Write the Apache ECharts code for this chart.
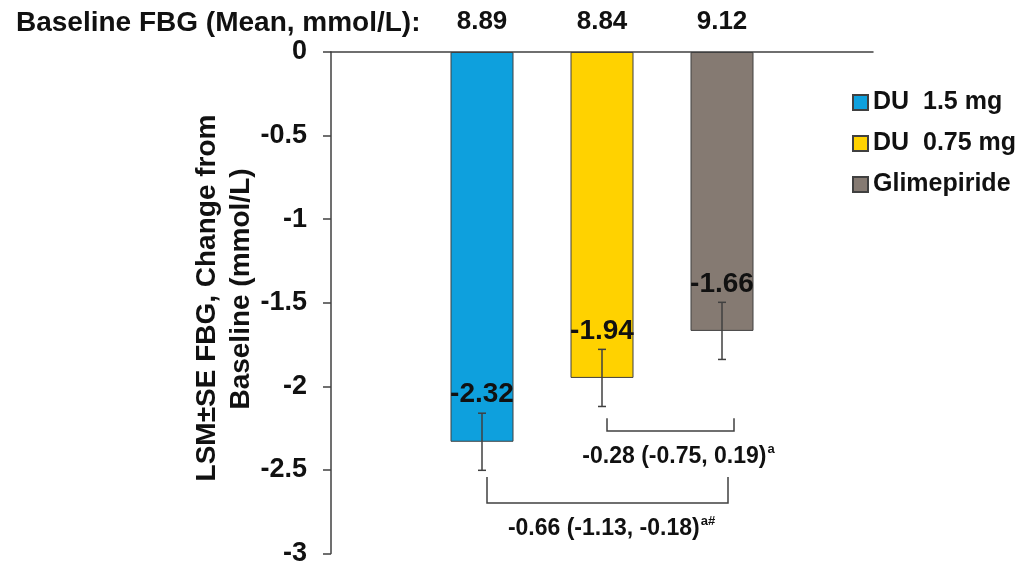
<!DOCTYPE html>
<html lang="en">
<head>
    <meta charset="UTF-8">
    <title>FBG change from baseline</title>
    <script src="https://cdn.jsdelivr.net/npm/echarts@6/dist/echarts.min.js"></script>
    <style>
        body { margin: 0; background: #fff; }
    </style>
</head>
<body>
    <div id="main" style="width: 1027px;height:567px;"></div>
    <script>
        var groups = ['DU  1.5 mg', 'DU  0.75 mg', 'Glimepiride'];
        var baselineFBG = ['8.89', '8.84', '9.12'];
        var lsm = [-2.32, -1.94, -1.66];
        var se = [0.17, 0.17, 0.17];
        var colors = ['#0ea0dd', '#ffd200', '#857a72'];
        var yTicks = { min: -3, max: 0, step: 0.5 };
        // brackets: from group, to group, bottom level, stub top level, label
        var bracketFrom = [1, 0];
        var bracketTo = [2, 2];
        var bracketLow = [-2.256, -2.685];
        var bracketHigh = [-2.18, -2.53];
        var bracketText = ['-0.28 (-0.75, 0.19)', '-0.66 (-1.13, -0.18)'];
        var bracketSup = ['a', 'a#'];

        var font = 'Arial, "Liberation Sans", sans-serif';
        var ink = '#111';
        var lineCol = '#404040';

        var myChart = echarts.init(document.getElementById('main'));

        var barSeries = groups.map(function (g, i) {
            return {
                name: g,
                type: 'bar',
                xAxisIndex: 1,
                yAxisIndex: 1,
                barWidth: 63,
                barGap: '-100%',
                data: lsm.map(function (v, j) { return j === i ? v : '-'; }),
                itemStyle: { color: colors[i], borderColor: lineCol, borderWidth: 1 },
                label: {
                    show: true,
                    position: 'insideBottom',
                    distance: 33,
                    color: ink,
                    fontFamily: font,
                    fontWeight: 'bold',
                    fontSize: 28
                }
            };
        });

        var errData = lsm.map(function (v, i) { return [i, v - se[i], v + se[i]]; });

        var bracketData = bracketFrom.map(function (f, i) {
            return [f, bracketTo[i], bracketLow[i], bracketHigh[i], i];
        });

        option = {
            animation: false,
            title: {
                text: 'Baseline FBG (Mean, mmol/L):',
                left: 11,
                top: 4,
                textStyle: { fontFamily: font, fontWeight: 'bold', fontSize: 28, color: ink }
            },
            legend: {
                orient: 'vertical',
                left: 847,
                top: 85,
                itemWidth: 15,
                itemHeight: 15,
                itemGap: 16,
                icon: 'rect',
                data: groups,
                textStyle: { fontFamily: font, fontWeight: 'bold', fontSize: 25, color: ink }
            },
            grid: [
                { left: 331, top: 52, width: 542, height: 504 },
                { left: 422, top: 52, width: 360, height: 504 }
            ],
            xAxis: [
                {
                    gridIndex: 0,
                    type: 'category',
                    position: 'top',
                    data: [''],
                    axisLine: { onZero: false, lineStyle: { color: lineCol, width: 1.5 } },
                    axisTick: { inside: true, length: 10, lineStyle: { color: lineCol, width: 1.5 } },
                    axisLabel: { show: false }
                },
                {
                    gridIndex: 1,
                    type: 'category',
                    position: 'top',
                    data: baselineFBG,
                    axisLine: { show: false },
                    axisTick: { show: false },
                    axisLabel: {
                        margin: 17,
                        color: ink,
                        fontFamily: font,
                        fontWeight: 'bold',
                        fontSize: 26
                    }
                }
            ],
            yAxis: [
                {
                    gridIndex: 0,
                    type: 'value',
                    min: yTicks.min,
                    max: yTicks.max,
                    interval: yTicks.step,
                    splitLine: { show: false },
                    axisLine: { show: true, lineStyle: { color: lineCol, width: 1.5 } },
                    axisTick: { show: true, length: 8, lineStyle: { color: lineCol, width: 1.5 } },
                    axisLabel: {
                        margin: 24,
                        color: ink,
                        fontFamily: font,
                        fontWeight: 'bold',
                        fontSize: 27
                    }
                },
                {
                    gridIndex: 1,
                    type: 'value',
                    min: yTicks.min,
                    max: yTicks.max,
                    show: false
                }
            ],
            graphic: [
                {
                    type: 'text',
                    x: 207, y: 298,
                    rotation: Math.PI / 2,
                    style: {
                        text: 'LSM\u00B1SE FBG, Change from',
                        fontFamily: font, fontWeight: 'bold', fontSize: 28, fill: ink,
                        align: 'center', verticalAlign: 'middle'
                    }
                },
                {
                    type: 'text',
                    x: 241, y: 289,
                    rotation: Math.PI / 2,
                    style: {
                        text: 'Baseline (mmol/L)',
                        fontFamily: font, fontWeight: 'bold', fontSize: 28, fill: ink,
                        align: 'center', verticalAlign: 'middle'
                    }
                }
            ],
            series: barSeries.concat([
                {
                    type: 'custom',
                    name: 'se',
                    xAxisIndex: 1,
                    yAxisIndex: 1,
                    z: 5,
                    data: errData,
                    renderItem: function (params, api) {
                        var lo = api.coord([api.value(0), api.value(1)]);
                        var hi = api.coord([api.value(0), api.value(2)]);
                        var c = 4;
                        var st = { stroke: lineCol, lineWidth: 1.5 };
                        return {
                            type: 'group',
                            children: [
                                { type: 'line', shape: { x1: lo[0], y1: lo[1], x2: hi[0], y2: hi[1] }, style: st },
                                { type: 'line', shape: { x1: lo[0] - c, y1: lo[1], x2: lo[0] + c, y2: lo[1] }, style: st },
                                { type: 'line', shape: { x1: hi[0] - c, y1: hi[1], x2: hi[0] + c, y2: hi[1] }, style: st }
                            ]
                        };
                    }
                },
                {
                    type: 'custom',
                    name: 'brackets',
                    xAxisIndex: 1,
                    yAxisIndex: 1,
                    z: 5,
                    data: bracketData,
                    renderItem: function (params, api) {
                        var k = api.value(4);
                        var a = api.coord([api.value(0), api.value(2)]);
                        var b = api.coord([api.value(1), api.value(2)]);
                        var top = api.coord([api.value(0), api.value(3)])[1];
                        var x1 = a[0] + 5;
                        var x2 = b[0] + (k === 0 ? 12 : 6);
                        var y = a[1];
                        return {
                            type: 'group',
                            children: [
                                {
                                    type: 'polyline',
                                    shape: { points: [[x1, top], [x1, y], [x2, y], [x2, top]] },
                                    style: { stroke: lineCol, lineWidth: 1.5, fill: null }
                                },
                                {
                                    type: 'text',
                                    x: (x1 + x2) / 2 + (k === 0 ? 8 : 4),
                                    y: y + 26,
                                    style: {
                                        text: '{m|' + bracketText[k] + '}{s|' + bracketSup[k] + '}',
                                        align: 'center',
                                        verticalAlign: 'middle',
                                        rich: {
                                            m: { fontFamily: font, fontWeight: 'bold', fontSize: 23, fill: ink, lineHeight: 28 },
                                            s: { fontFamily: font, fontWeight: 'bold', fontSize: 13, fill: ink, lineHeight: 28, verticalAlign: 'top', padding: [0, 0, 12, 1] }
                                        }
                                    }
                                }
                            ]
                        };
                    }
                }
            ])
        };

        myChart.setOption(option);
    </script>
</body>
</html>
